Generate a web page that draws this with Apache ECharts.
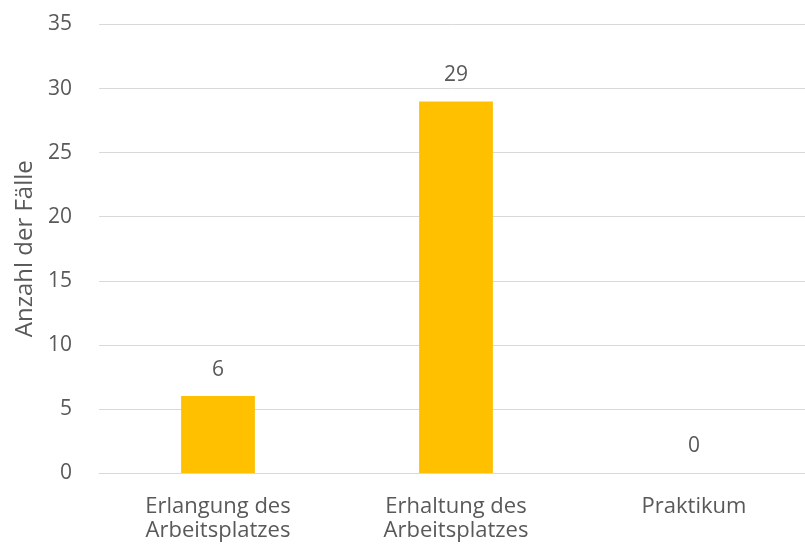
<!DOCTYPE html>
<html>
<head>
<meta charset="utf-8">
<script src="https://cdn.jsdelivr.net/npm/echarts@6/dist/echarts.min.js"></script>
<style>
  html, body { margin: 0; padding: 0; background: #fff; }
  #chart { width: 805px; height: 551px; }
</style>
</head>
<body>
<div id="chart"></div>
<script>
// Anzahl der Fälle je Kategorie
const categories = ['Erlangung des\nArbeitsplatzes', 'Erhaltung des\nArbeitsplatzes', 'Praktikum'];
const values = [6, 29, 0];
const yTicks = { min: 0, max: 35, interval: 5 };
const yAxisTitle = 'Anzahl der Fälle';

const textColor = '#595959';
const font = '"Open Sans", "Liberation Sans", sans-serif';

const chart = echarts.init(document.getElementById('chart'), null, { renderer: 'canvas' });
chart.setOption({
  animation: false,
  backgroundColor: '#ffffff',
  grid: {
    left: 99, right: -8, top: 24.5, bottom: 78,
    containLabel: false,
    outerBoundsMode: 'none'
  },
  xAxis: {
    type: 'category',
    data: categories,
    axisLine: { show: true, lineStyle: { color: '#d9d9d9', width: 1 } },
    axisTick: { show: false },
    axisLabel: {
      color: textColor, fontFamily: font, fontSize: 22,
      lineHeight: 24, margin: 22, interval: 0
    }
  },
  yAxis: {
    type: 'value',
    min: yTicks.min, max: yTicks.max, interval: yTicks.interval,
    name: yAxisTitle,
    nameLocation: 'middle',
    nameGap: 62,
    nameRotate: 90,
    nameTextStyle: { color: textColor, fontFamily: font, fontSize: 24 },
    axisLine: { show: false },
    axisTick: { show: false },
    axisLabel: { color: textColor, fontFamily: font, fontSize: 21, margin: 27 },
    splitLine: { lineStyle: { color: '#d9d9d9', width: 1 } }
  },
  series: [{
    type: 'bar',
    data: values,
    barWidth: '31%',
    itemStyle: { color: '#FFC000' },
    label: {
      show: true, position: 'top', distance: 16,
      color: textColor, fontFamily: font, fontSize: 21
    }
  }]
});
</script>
</body>
</html>
